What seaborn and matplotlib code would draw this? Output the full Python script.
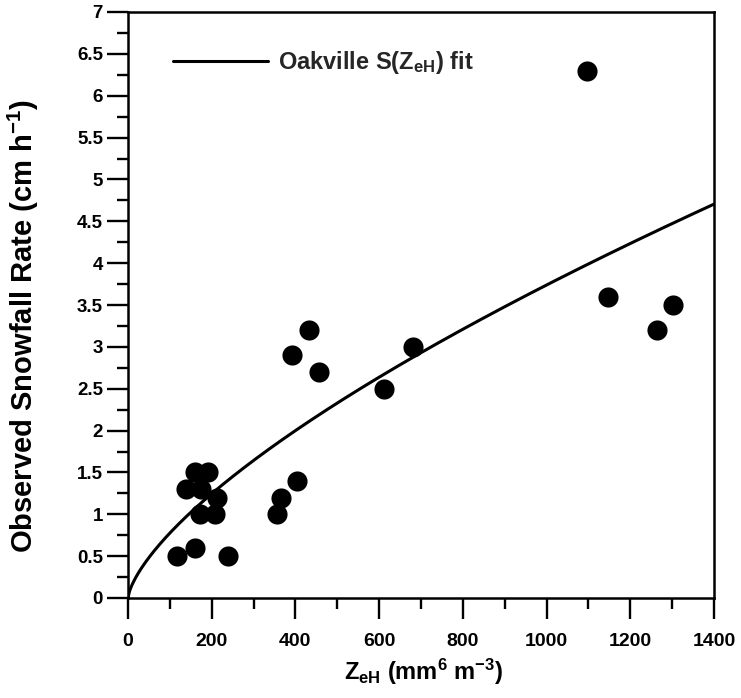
import numpy as np
import pandas as pd
import matplotlib
matplotlib.use("Agg")
import matplotlib.pyplot as plt
import seaborn as sns
from matplotlib.ticker import MultipleLocator

# Observed data
zeh = [117, 139, 160, 160, 172, 174, 190, 208, 212, 240,
       357, 365, 392, 404, 432, 456, 612, 681, 1097, 1147, 1263, 1303]
snow = [0.5, 1.3, 1.5, 0.6, 1.0, 1.3, 1.5, 1.0, 1.2, 0.5,
        1.0, 1.2, 2.9, 1.4, 3.2, 2.7, 2.5, 3.0, 6.3, 3.6, 3.2, 3.5]

# Oakville S(ZeH) fit: S = a * Z^b
fit_a = 0.0334
fit_b = 0.683
fit_z = np.linspace(0, 1400, 400)
fit_s = fit_a * fit_z ** fit_b

xticks = [0, 200, 400, 600, 800, 1000, 1200, 1400]
yticks = [0, 0.5, 1, 1.5, 2, 2.5, 3, 3.5, 4, 4.5, 5, 5.5, 6, 6.5, 7]
ytick_labels = ["0", "0.5", "1", "1.5", "2", "2.5", "3", "3.5", "4", "4.5",
                "5", "5.5", "6", "6.5", "7"]

sns.set_theme(style="ticks")
plt.rcParams["font.family"] = ["Liberation Sans", "DejaVu Sans"]
plt.rcParams["font.weight"] = "bold"
plt.rcParams["mathtext.fontset"] = "custom"
plt.rcParams["mathtext.rm"] = "Liberation Sans:bold"
plt.rcParams["mathtext.bf"] = "Liberation Sans:bold"
plt.rcParams["mathtext.it"] = "Liberation Sans:bold"
plt.rcParams["mathtext.default"] = "regular"

fig = plt.figure(figsize=(7.41, 6.98), dpi=100)
ax = fig.add_axes([128 / 741, 1 - 598 / 698, (714 - 128) / 741, (598 - 12) / 698])

fit_df = pd.DataFrame({"Z": fit_z, "S": fit_s})
obs_df = pd.DataFrame({"Z": zeh, "S": snow})

sns.lineplot(data=fit_df, x="Z", y="S", ax=ax, color="black", linewidth=2.2,
             label=r"Oakville S(Z$_{eH}$) fit", zorder=3)
sns.scatterplot(data=obs_df, x="Z", y="S", ax=ax, color="black", s=210,
                edgecolor="black", linewidth=0, zorder=4)

ax.set_xlim(0, 1400)
ax.set_ylim(0, 7)
ax.set_xticks(xticks)
ax.set_xticklabels([str(v) for v in xticks])
ax.set_yticks(yticks)
ax.set_yticklabels(ytick_labels)
ax.xaxis.set_minor_locator(MultipleLocator(100))
ax.yaxis.set_minor_locator(MultipleLocator(0.25))

ax.tick_params(axis="both", which="major", direction="out", length=15,
               width=1.7, color="black", labelcolor="black")
ax.tick_params(axis="x", which="major", labelsize=14, pad=10)
ax.tick_params(axis="y", which="major", labelsize=13.5, pad=3)
ax.tick_params(axis="both", which="minor", direction="out", length=8,
               width=1.7, color="black")
ax.tick_params(top=False, right=False, which="both")

for sp in ax.spines.values():
    sp.set_visible(True)
    sp.set_linewidth(1.8)
    sp.set_color("black")

ax.set_xlabel(r"Z$_{eH}$ (mm$^{6}$ m$^{-3}$)", fontsize=17, fontweight="bold",
              color="black")
ax.set_ylabel(r"Observed Snowfall Rate (cm h$^{-1}$)", fontsize=21,
              fontweight="bold", color="black")
ax.xaxis.set_label_coords(0.505, -0.100)
ax.yaxis.set_label_coords(-0.148, 0.464)

leg = ax.legend(loc="center left", bbox_to_anchor=(0.077, 0.914), frameon=False,
                fontsize=17, handlelength=4.0, handletextpad=0.45,
                borderpad=0, borderaxespad=0)

fig.savefig("out.png", dpi=100)
